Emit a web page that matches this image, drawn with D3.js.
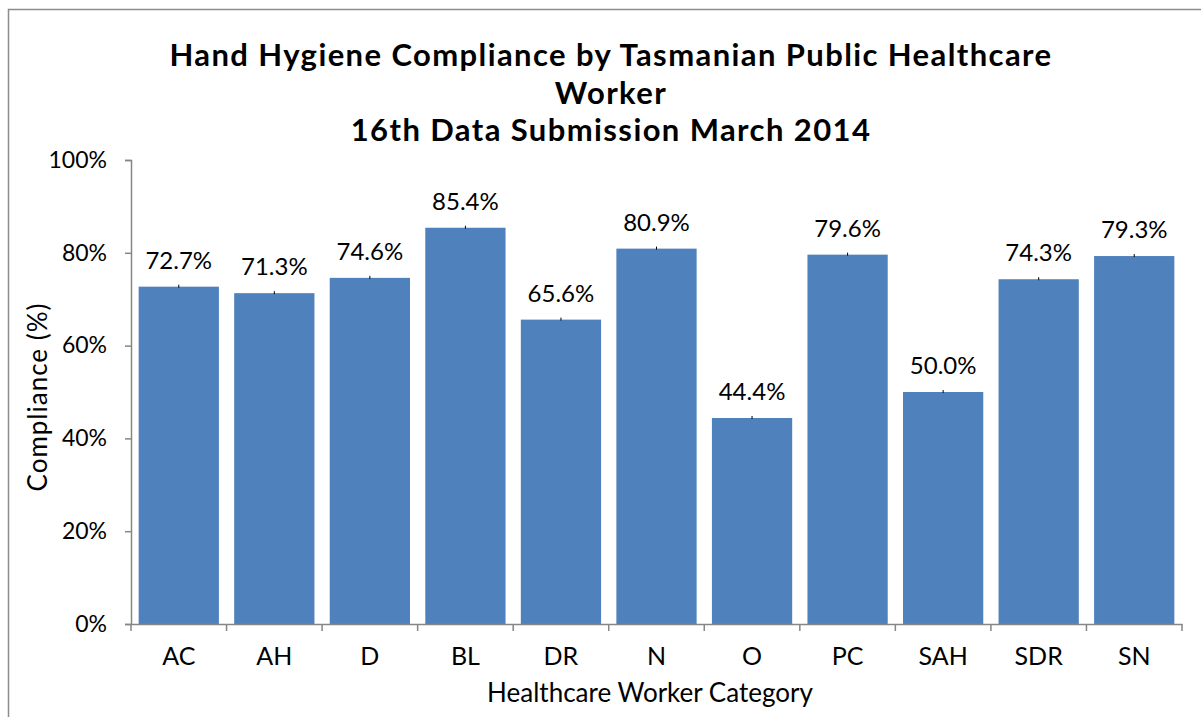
<!DOCTYPE html>
<html>
<head>
<meta charset="utf-8">
<script src="https://cdn.jsdelivr.net/npm/d3@7"></script>
<style>
  body { margin: 0; background: #fff; }
  svg text { font-family: Lato, "Open Sans", sans-serif; fill: #000; }
</style>
</head>
<body>
<div id="chart"></div>
<script>
var categories = ["AC", "AH", "D", "BL", "DR", "N", "O", "PC", "SAH", "SDR", "SN"];
var compliance = [72.7, 71.3, 74.6, 85.4, 65.6, 80.9, 44.4, 79.6, 50.0, 74.3, 79.3];
var yTicks = [0, 20, 40, 60, 80, 100];
var titleLines = ["Hand Hygiene Compliance by Tasmanian Public Healthcare", "Worker", "16th Data Submission March 2014"];

var WIDTH = 1201, HEIGHT = 717;
var BAR_COLOR = "#4F81BD", AXIS_COLOR = "#868686";

var margin = { top: 160, left: 131, right: 19, bottom: 93 };

var svg = d3.select("#chart")
    .append("svg")
    .attr("width", WIDTH)
    .attr("height", HEIGHT);

// chart frame
svg.append("rect")
    .attr("x", 8.5)
    .attr("y", 9.5)
    .attr("width", WIDTH + 20)
    .attr("height", HEIGHT + 20)
    .attr("fill", "none")
    .attr("stroke", "#8c8c8c")
    .attr("stroke-width", 1.5);

var x = d3.scaleBand()
    .domain(categories)
    .range([margin.left, WIDTH - margin.right])
    .paddingInner(0.16)
    .paddingOuter(0.08);

var xOuter = d3.scaleBand()
    .domain(categories)
    .range([margin.left, WIDTH - margin.right]);

var y = d3.scaleLinear()
    .domain([0, 100])
    .range([HEIGHT - margin.bottom, margin.top]);

// title
svg.append("text")
    .attr("x", 611)
    .attr("y", 66)
    .attr("text-anchor", "middle")
    .style("font-weight", "bold")
    .style("font-size", "31px")
    .style("letter-spacing", "1.4px")
    .selectAll("tspan")
    .data(titleLines)
    .enter()
    .append("tspan")
    .attr("x", 611)
    .attr("dy", function(d, i) { return i == 0 ? 0 : 37.5; })
    .text(function(d) { return d; });

// bars
svg.selectAll(".bar")
    .data(compliance)
    .enter()
    .append("rect")
    .attr("class", "bar")
    .attr("x", function(d, i) { return x(categories[i]); })
    .attr("y", function(d) { return y(d); })
    .attr("width", x.bandwidth())
    .attr("height", function(d) { return y(0) - y(d); })
    .attr("fill", BAR_COLOR);

// little marks on bar tops
svg.selectAll(".cap")
    .data(compliance)
    .enter()
    .append("line")
    .attr("class", "cap")
    .attr("x1", function(d, i) { return x(categories[i]) + x.bandwidth() / 2; })
    .attr("x2", function(d, i) { return x(categories[i]) + x.bandwidth() / 2; })
    .attr("y1", function(d) { return y(d) - 2; })
    .attr("y2", function(d) { return y(d) + 1; })
    .attr("stroke", "#000")
    .attr("stroke-width", 1);

// value labels
svg.selectAll(".val")
    .data(compliance)
    .enter()
    .append("text")
    .attr("class", "val")
    .attr("x", function(d, i) { return x(categories[i]) + x.bandwidth() / 2; })
    .attr("y", function(d) { return y(d) - 18; })
    .attr("text-anchor", "middle")
    .style("font-size", "24px")
    .text(function(d) { return d.toFixed(1) + "%"; });

// y axis
var yAxis = svg.append("g")
    .attr("transform", "translate(" + margin.left + ",0)")
    .call(d3.axisLeft(y).tickValues(yTicks).tickSize(6).tickPadding(18)
        .tickFormat(function(d) { return d + "%"; }));
yAxis.select(".domain").attr("stroke", AXIS_COLOR).attr("stroke-width", 1.5);
yAxis.selectAll(".tick line").attr("stroke", AXIS_COLOR).attr("stroke-width", 1.5);
yAxis.selectAll(".tick text").style("font-size", "23px").attr("fill", "#000");

// x axis
var xAxis = svg.append("g")
    .attr("transform", "translate(0," + y(0) + ")")
    .call(d3.axisBottom(xOuter).tickSize(0).tickPadding(23));
xAxis.select(".domain").attr("stroke", AXIS_COLOR).attr("stroke-width", 1.5);
xAxis.selectAll(".tick text").style("font-size", "25px").attr("fill", "#000");

// category boundary ticks
var bounds = categories.map(function(c) { return xOuter(c); });
bounds.push(WIDTH - margin.right);
xAxis.selectAll(".bound")
    .data(bounds)
    .enter()
    .append("line")
    .attr("class", "bound")
    .attr("x1", function(d) { return d; })
    .attr("x2", function(d) { return d; })
    .attr("y1", 0)
    .attr("y2", 7)
    .attr("stroke", AXIS_COLOR)
    .attr("stroke-width", 1.5);

// axis titles
svg.append("text")
    .attr("x", 650)
    .attr("y", 702)
    .attr("text-anchor", "middle")
    .style("font-size", "26px")
    .text("Healthcare Worker Category");

svg.append("text")
    .attr("transform", "translate(47,397) rotate(-90)")
    .attr("text-anchor", "middle")
    .style("font-size", "26px")
    .style("letter-spacing", "1px")
    .text("Compliance (%)");
</script>
</body>
</html>
